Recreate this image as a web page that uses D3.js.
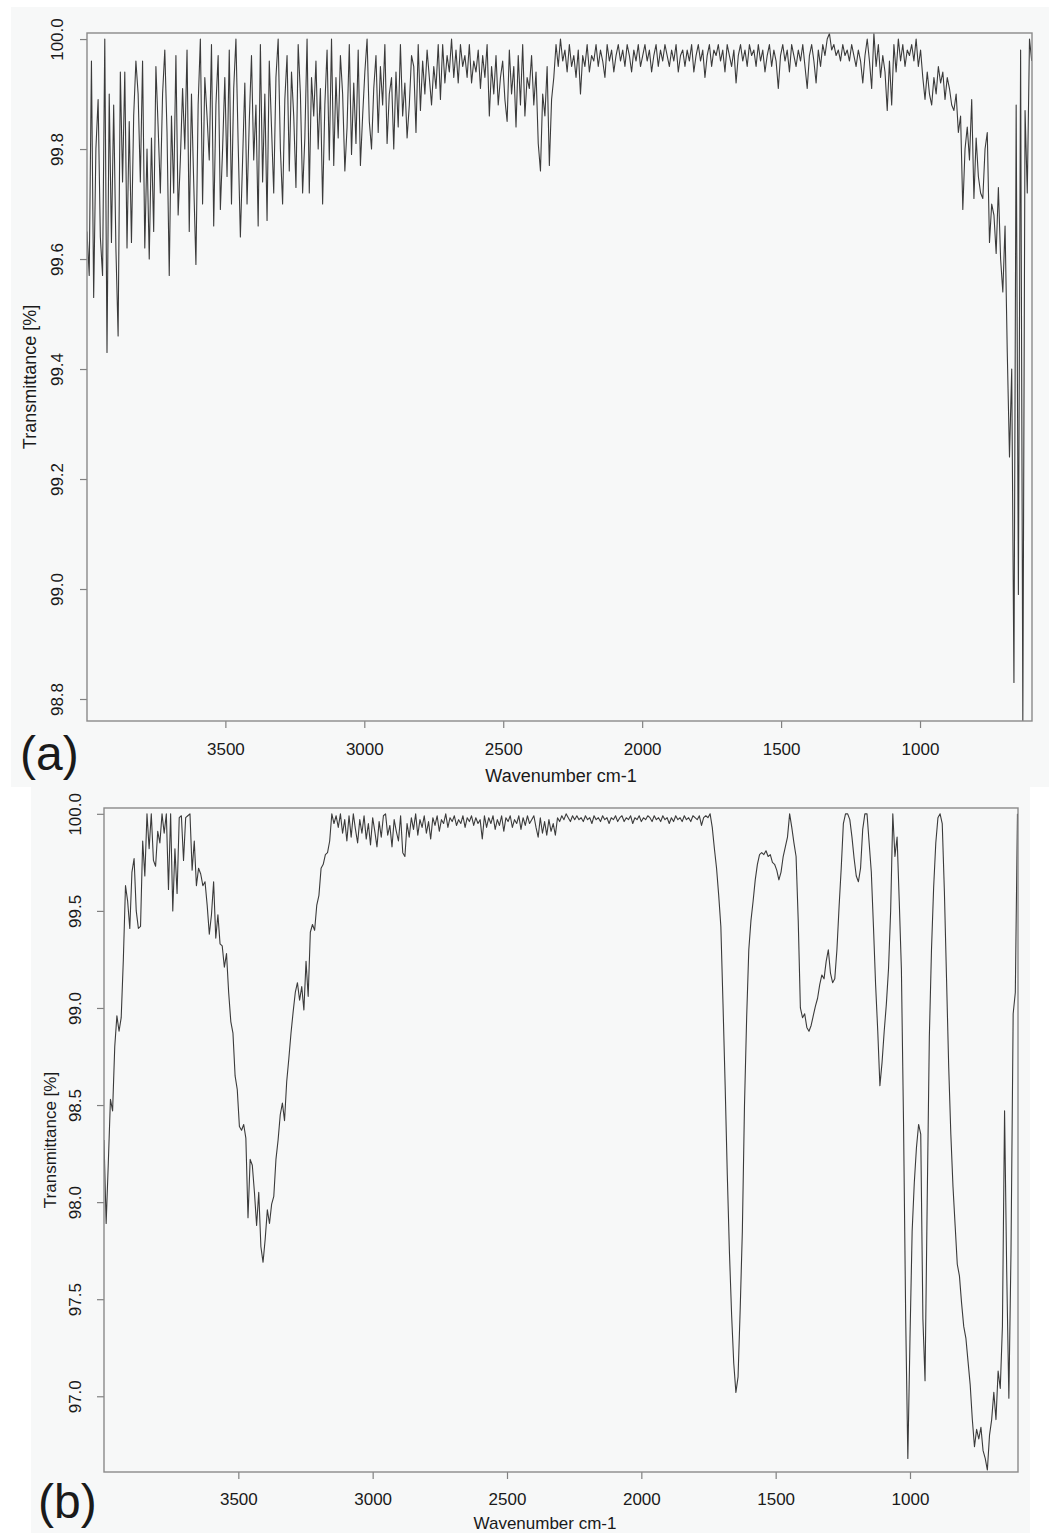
<!DOCTYPE html>
<html>
<head>
<meta charset="utf-8">
<script src="https://cdn.jsdelivr.net/npm/d3@7"></script>
<style>
  html, body { margin: 0; padding: 0; background: #ffffff; }
  svg { display: block; }
  text { font-family: "Liberation Sans", Arial, Helvetica, sans-serif; fill: #1a1a1a; }
</style>
</head>
<body>
<svg id="chart" width="1049" height="1533"></svg>
<script>
// ---------------- DATA ----------------
// Panel (a): wavenumber grid (cm-1) and transmittance (%)
const waveStartA = 3998, waveStepA = 8;
const transA = [
  99.65,99.57,99.96,99.53,99.80,99.89,99.64,99.57,100.00,99.43,
  99.90,99.63,99.88,99.62,99.46,99.94,99.74,99.94,99.62,99.85,
  99.63,99.86,99.96,99.90,99.74,99.96,99.62,99.80,99.60,99.82,
  99.65,99.95,99.84,99.72,99.90,99.98,99.83,99.57,99.86,99.72,
  99.97,99.68,99.78,99.91,99.80,99.98,99.65,99.90,99.74,99.59,
  99.88,100.00,99.70,99.93,99.86,99.78,99.99,99.66,99.88,99.97,
  99.69,99.80,99.93,99.75,99.98,99.70,99.91,100.00,99.81,99.64,
  99.78,99.92,99.70,99.85,99.97,99.78,99.88,99.66,99.99,99.74,
  99.90,99.67,99.96,99.84,99.72,99.93,100.00,99.80,99.70,99.89,
  99.97,99.76,99.94,99.86,99.73,99.99,99.90,99.72,99.82,100.00,
  99.72,99.93,99.86,99.96,99.80,99.91,99.70,99.88,99.98,99.78,
  100.00,99.77,99.93,99.82,99.97,99.90,99.76,99.84,99.99,99.79,
  99.92,99.81,99.98,99.77,99.86,99.94,100.00,99.85,99.80,99.91,
  99.97,99.83,99.95,99.88,99.99,99.81,99.90,99.93,99.80,99.94,
  99.84,99.99,99.86,99.92,99.82,99.88,99.97,99.95,99.83,99.99,
  99.87,99.96,99.90,99.98,99.93,99.88,99.95,99.91,99.99,99.89,
  99.99,99.92,99.97,99.94,100.00,99.93,99.98,99.92,99.99,99.95,
  99.97,99.93,99.99,99.92,99.96,99.94,99.98,99.91,99.97,99.93,
  99.99,99.86,99.95,99.90,99.97,99.88,99.93,99.96,99.89,99.85,
  99.98,99.90,99.95,99.84,99.97,99.88,99.99,99.86,99.93,99.91,
  99.97,99.88,99.94,99.81,99.76,99.90,99.86,99.95,99.77,99.89,
  99.93,99.99,99.95,100.00,99.96,99.98,99.94,99.99,99.95,99.97,
  99.93,99.98,99.90,99.97,99.95,99.99,99.94,99.97,99.96,99.99,
  99.95,99.98,99.96,99.93,99.99,99.96,99.98,99.94,99.97,99.99,
  99.96,99.98,99.95,99.99,99.97,99.94,99.98,99.96,99.99,99.95,
  99.97,99.99,99.96,99.98,99.94,99.97,99.99,99.95,99.98,99.96,
  99.99,99.97,99.95,99.98,99.96,99.99,99.94,99.97,99.98,99.95,
  99.98,99.96,99.99,99.94,99.97,99.99,99.96,99.98,99.93,99.97,
  99.99,99.95,99.98,99.97,99.99,99.96,99.98,99.94,99.99,99.97,
  99.95,99.98,99.92,99.97,99.99,99.96,99.98,99.95,99.99,99.97,
  99.98,99.95,99.99,99.96,99.98,99.94,99.97,99.99,99.95,99.98,
  99.96,99.91,99.97,99.99,99.96,99.98,99.94,99.99,99.97,99.95,
  99.98,99.96,99.99,99.95,99.91,99.97,99.99,99.96,99.92,99.98,
  99.95,99.99,99.97,100.00,100.01,99.98,99.99,99.97,99.98,99.96,
  99.99,99.97,99.98,99.96,99.99,99.97,99.95,99.98,99.96,99.92,
  99.97,100.00,99.96,99.91,100.01,99.95,99.99,99.93,99.97,99.94,
  99.87,99.96,99.88,99.99,99.94,100.00,99.96,99.99,99.95,99.98,
  99.97,99.99,99.96,100.00,99.95,99.98,99.93,99.89,99.94,99.90,
  99.88,99.93,99.90,99.95,99.92,99.94,99.89,99.93,99.91,99.88,
  99.87,99.90,99.83,99.86,99.69,99.80,99.84,99.78,99.89,99.71,
  99.82,99.75,99.72,99.71,99.80,99.83,99.63,99.70,99.68,99.61,
  99.73,99.60,99.54,99.66,99.43,99.24,99.40,98.83,99.88,98.99,
  99.98,98.76,99.87,99.72,100.00,99.96
];

// Panel (b)
const waveStartB = 4000, waveStepB = 8;
const transB = [
  98.32,97.89,98.20,98.53,98.47,98.80,98.96,98.88,98.95,99.25,
  99.63,99.55,99.41,99.70,99.77,99.50,99.41,99.42,99.86,99.68,
  100.00,99.82,100.00,99.76,99.73,99.91,99.85,100.00,99.90,100.00,
  99.61,100.00,99.50,99.82,99.59,99.98,99.99,99.76,99.98,99.99,
  100.00,99.71,99.86,99.63,99.72,99.69,99.63,99.65,99.53,99.38,
  99.48,99.65,99.36,99.48,99.33,99.32,99.21,99.28,99.08,98.93,
  98.87,98.65,98.58,98.39,98.37,98.40,98.33,97.92,98.22,98.19,
  98.05,97.88,98.05,97.77,97.69,97.81,97.96,97.89,97.99,98.03,
  98.22,98.32,98.45,98.51,98.42,98.62,98.74,98.87,98.98,99.08,
  99.13,99.04,99.11,98.99,99.24,99.06,99.39,99.43,99.40,99.53,
  99.58,99.72,99.74,99.79,99.80,99.86,100.00,99.95,99.99,99.93,
  100.00,99.90,99.97,99.86,99.99,99.88,100.00,99.92,99.85,99.97,
  99.90,99.99,99.87,99.95,99.84,99.98,99.91,99.83,99.96,99.88,
  99.99,100.00,99.89,99.94,99.83,99.97,99.91,99.86,99.99,99.80,
  99.78,99.95,99.88,99.98,99.92,100.00,99.89,99.97,99.93,99.99,
  99.90,99.96,99.87,99.98,99.94,99.99,99.91,99.97,99.95,100.00,
  99.93,99.98,99.96,99.99,99.94,99.97,99.95,99.99,99.93,99.98,
  99.96,99.99,99.94,99.98,99.95,99.97,99.87,99.99,99.93,99.98,
  99.95,99.99,99.92,99.97,99.94,99.99,99.91,99.98,99.96,99.99,
  99.93,99.97,99.95,99.99,99.92,99.98,99.94,99.99,99.95,99.97,
  99.99,99.93,99.88,99.98,99.90,99.96,99.89,99.97,99.91,99.95,
  99.89,99.98,99.96,99.99,99.97,100.00,99.98,99.96,99.99,99.97,
  99.99,99.97,99.98,99.96,99.99,99.97,99.98,99.95,99.99,99.97,
  99.98,99.96,99.99,99.97,99.98,99.95,99.98,99.97,99.99,99.96,
  99.98,99.99,99.96,99.98,99.97,99.99,99.95,99.98,99.97,99.99,
  99.96,99.98,99.97,99.99,99.98,99.96,99.99,99.97,99.98,99.96,
  99.99,99.97,99.98,99.95,99.98,99.96,99.99,99.97,99.98,99.96,
  99.99,99.97,99.98,99.96,99.99,99.98,99.97,99.99,99.94,99.98,
  99.99,99.98,100.00,99.93,99.82,99.72,99.58,99.42,99.02,98.60,
  98.14,97.74,97.42,97.17,97.02,97.10,97.45,97.85,98.50,98.95,
  99.30,99.45,99.55,99.66,99.74,99.79,99.80,99.79,99.81,99.78,
  99.79,99.75,99.74,99.71,99.66,99.70,99.78,99.83,99.88,100.00,
  99.93,99.85,99.78,99.45,99.00,98.95,98.97,98.90,98.88,98.91,
  98.96,99.01,99.05,99.12,99.17,99.15,99.24,99.30,99.18,99.13,
  99.15,99.30,99.52,99.72,99.95,100.00,100.00,99.97,99.88,99.77,
  99.68,99.65,99.72,99.92,100.00,100.00,99.85,99.70,99.42,99.12,
  98.88,98.60,98.72,98.88,99.02,99.20,99.50,100.00,99.78,99.88,
  99.55,99.20,98.40,97.40,96.68,97.30,97.85,98.10,98.28,98.40,
  98.35,97.40,97.08,98.00,98.85,99.30,99.62,99.85,99.98,100.00,
  99.95,99.60,99.15,98.70,98.35,98.08,97.88,97.68,97.62,97.48,
  97.36,97.30,97.18,97.06,96.88,96.74,96.83,96.78,96.84,96.72,
  96.68,96.62,96.80,96.88,97.02,96.88,97.13,97.04,97.36,98.47,
  97.64,96.99,97.75,98.97,99.08,100.00
];

const xTicks = [3500, 3000, 2500, 2000, 1500, 1000];
const yTicksA = [98.8, 99.0, 99.2, 99.4, 99.6, 99.8, 100.0];
const yTicksB = [97.0, 97.5, 98.0, 98.5, 99.0, 99.5, 100.0];
const xTitle = "Wavenumber cm-1";
const yTitle = "Transmittance [%]";

// ---------------- DRAW ----------------
const svg = d3.select("#chart");

// panel backgrounds
svg.append("rect").attr("x", 11).attr("y", 7).attr("width", 1038).attr("height", 780).attr("fill", "#f7f8f8");
svg.append("rect").attr("x", 31).attr("y", 787).attr("width", 999).attr("height", 746).attr("fill", "#f7f8f8");

function drawPanel(cfg) {
  const data = cfg.values.map((v, i) => ({ w: cfg.waveStart - i * cfg.waveStep, t: v }));
  const x = d3.scaleLinear().domain(cfg.xDomain).range([cfg.left, cfg.left + cfg.width]);
  const y = d3.scaleLinear().domain(cfg.yDomain).range([cfg.top + cfg.height, cfg.top]);

  const g = svg.append("g");
  const clipId = "clip-" + cfg.id;
  g.append("clipPath").attr("id", clipId).append("rect")
    .attr("x", cfg.left).attr("y", cfg.top).attr("width", cfg.width).attr("height", cfg.height);

  // spectrum
  g.append("path")
    .datum(data)
    .attr("clip-path", `url(#${clipId})`)
    .attr("fill", "none")
    .attr("stroke", "#3b3b3b")
    .attr("stroke-width", 1.1)
    .attr("stroke-linejoin", "round")
    .attr("d", d3.line().x(d => x(d.w)).y(d => y(d.t)));

  // x axis
  const xa = g.append("g")
    .attr("transform", `translate(0,${cfg.top + cfg.height})`)
    .call(d3.axisBottom(x).tickValues(xTicks).tickFormat(d3.format("d")).tickSize(7).tickPadding(cfg.xPad));
  xa.select(".domain").remove();
  xa.selectAll(".tick line").attr("stroke", "#808080").attr("stroke-width", 1.2);
  xa.selectAll(".tick text").attr("font-size", cfg.tickFont).attr("fill", "#1a1a1a")
    .attr("font-family", '"Liberation Sans", Arial, sans-serif');

  // y axis
  const ya = g.append("g")
    .attr("transform", `translate(${cfg.left},0)`)
    .call(d3.axisLeft(y).tickValues(cfg.yTicks).tickFormat(d3.format(".1f")).tickSize(7));
  ya.select(".domain").remove();
  ya.selectAll(".tick line").attr("stroke", "#808080").attr("stroke-width", 1.2);
  ya.selectAll(".tick text")
    .attr("x", null).attr("dy", "0.35em")
    .attr("transform", `translate(${-cfg.yLabelOff},0) rotate(-90)`)
    .attr("text-anchor", "middle")
    .attr("font-size", cfg.tickFont).attr("fill", "#1a1a1a")
    .attr("font-family", '"Liberation Sans", Arial, sans-serif');

  // box
  g.append("rect")
    .attr("x", cfg.left).attr("y", cfg.top).attr("width", cfg.width).attr("height", cfg.height)
    .attr("fill", "none").attr("stroke", "#8a8a8a").attr("stroke-width", 1.4);

  // titles
  g.append("text")
    .attr("x", cfg.xTitleX).attr("y", cfg.xTitleY)
    .attr("text-anchor", "middle").attr("font-size", cfg.titleFont)
    .text(xTitle);
  g.append("text")
    .attr("transform", `translate(${cfg.yTitleX},${cfg.top + cfg.height / 2}) rotate(-90)`)
    .attr("text-anchor", "middle").attr("dy", "0.35em").attr("font-size", cfg.titleFont)
    .text(yTitle);

  // panel letter
  g.append("text")
    .attr("x", cfg.letterX).attr("y", cfg.letterY)
    .attr("font-size", cfg.letterFont)
    .text(cfg.letter);
}

drawPanel({
  id: "a", values: transA, waveStart: waveStartA, waveStep: waveStepA,
  left: 87, top: 33, width: 945, height: 688,
  xDomain: [3998, 597], yDomain: [98.760, 100.011], yTicks: yTicksA,
  tickFont: 17, titleFont: 18, yLabelOff: 30, xPad: 15,
  xTitleX: 561, xTitleY: 782, yTitleX: 30,
  letter: "(a)", letterX: 20, letterY: 770, letterFont: 48
});

drawPanel({
  id: "b", values: transB, waveStart: waveStartB, waveStep: waveStepB,
  left: 104, top: 808, width: 914, height: 664,
  xDomain: [4000, 598], yDomain: [96.61, 100.03], yTicks: yTicksB,
  tickFont: 17, titleFont: 17, yLabelOff: 29, xPad: 14,
  xTitleX: 545, xTitleY: 1529, yTitleX: 50,
  letter: "(b)", letterX: 38, letterY: 1518, letterFont: 48
});
</script>
</body>
</html>
